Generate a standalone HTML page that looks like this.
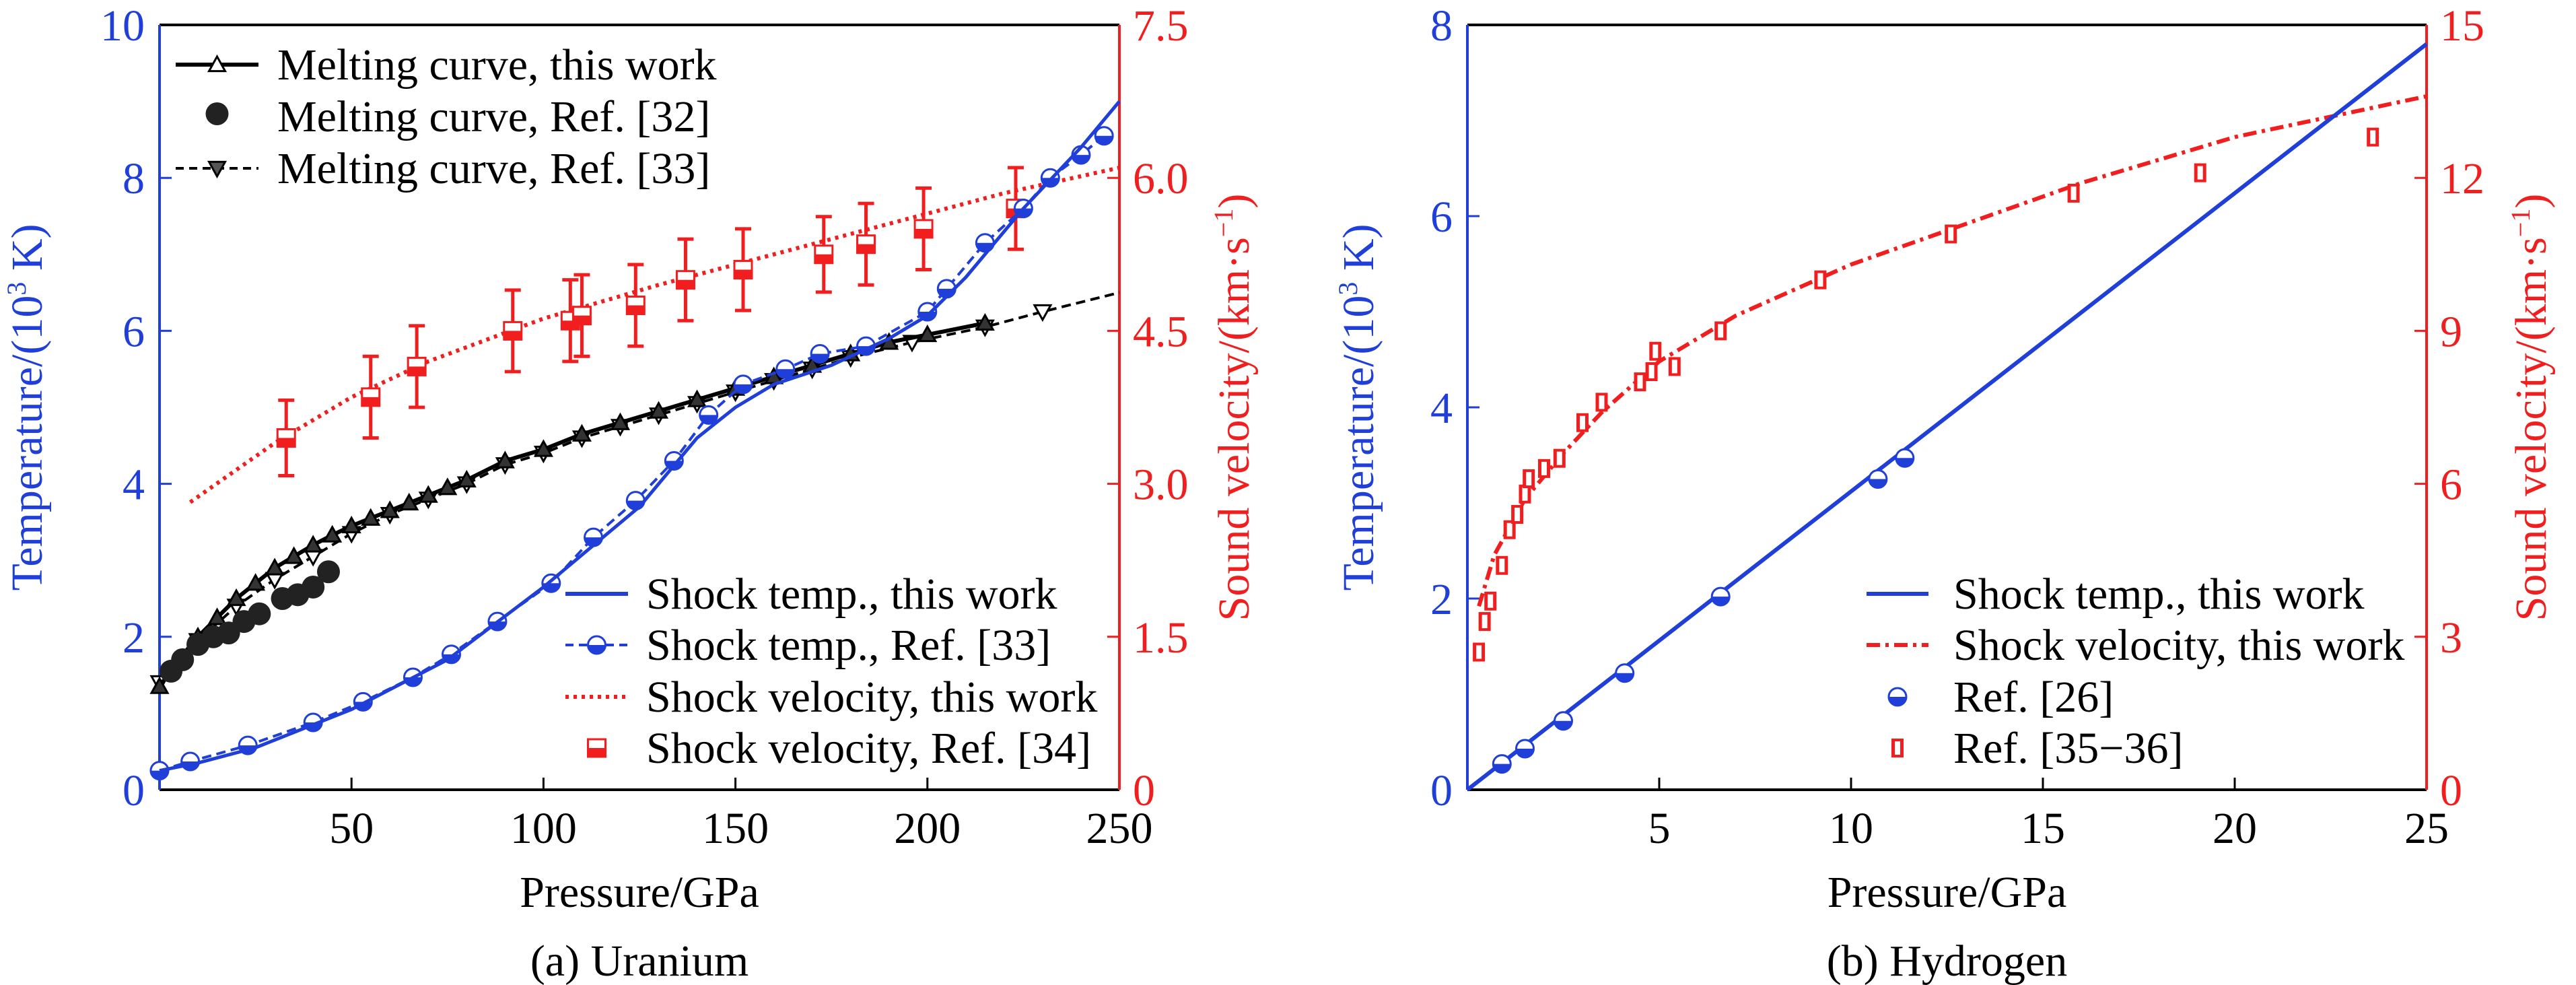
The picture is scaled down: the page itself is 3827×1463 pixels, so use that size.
<!DOCTYPE html>
<html><head><meta charset="utf-8"><style>
html,body{margin:0;padding:0;background:#fff}
svg{display:block}
text{font-family:"Liberation Serif","Times New Roman","DejaVu Serif",serif}
</style></head><body>
<svg id="fig" width="3827" height="1463" viewBox="0 0 3827 1463" xmlns="http://www.w3.org/2000/svg"></svg>
<script>
// ---------- Panel (a) Uranium data ----------
const meltThisP=[0,5,10,15,20,25,30,35,40,45,50,55,60,65,70,75,80,90,100,110,120,130,140,150,160,170,180,190,200,215];
const meltThisT=[1.35,1.7,2.0,2.25,2.5,2.7,2.9,3.05,3.2,3.33,3.45,3.55,3.65,3.75,3.85,3.95,4.05,4.3,4.45,4.65,4.8,4.95,5.1,5.25,5.4,5.55,5.7,5.85,5.95,6.1];
const meltR33P=[0,10,20,30,40,50,60,70,80,90,100,110,120,130,140,150,160,170,180,196,215,230,250];
const meltR33T=[1.4,1.95,2.4,2.75,3.05,3.35,3.6,3.8,4.0,4.25,4.4,4.6,4.75,4.9,5.05,5.2,5.35,5.5,5.65,5.85,6.05,6.25,6.5];
const meltR32P=[3,6,10,14,18,22,26,32,36,40,44];
const meltR32T=[1.55,1.7,1.9,2.0,2.05,2.2,2.3,2.5,2.55,2.65,2.85];
const stThisP=[0,10,25,50,75,100,125,140,150,160,175,190,200,210,225,240,250];
const stThisT=[0.25,0.35,0.55,1.05,1.7,2.65,3.7,4.6,5.0,5.3,5.55,5.9,6.2,6.7,7.6,8.4,9.0];
const stR33P=[0,8,23,40,53,66,76,88,102,113,124,134,143,152,163,172,184,200,205,215,225,232,240,246];
const stR33T=[0.25,0.37,0.58,0.88,1.15,1.47,1.77,2.2,2.7,3.3,3.78,4.3,4.9,5.3,5.5,5.7,5.8,6.25,6.55,7.15,7.6,8.0,8.3,8.55];
const svThisP=[8,30,50,70,100,130,160,190,220,250];
const svThisV=[2.82,3.4,3.85,4.2,4.62,4.95,5.25,5.55,5.85,6.1];
const svR34P=[33,55,67,92,107,110,124,137,152,173,184,199,223];
const svR34V=[3.45,3.85,4.15,4.5,4.6,4.65,4.75,5.0,5.1,5.25,5.35,5.5,5.7];
const svR34E=[0.37,0.4,0.4,0.4,0.4,0.4,0.4,0.4,0.4,0.37,0.4,0.4,0.4];
const aXTicks=[50,100,150,200,250];
const aYTicks=[0,2,4,6,8,10];
const aY2Ticks=["0","1.5","3.0","4.5","6.0","7.5"];
// ---------- Panel (b) Hydrogen data ----------
const hTempP=[0,25];
const hTempT=[0,7.8];
const hR26P=[0.9,1.5,2.5,4.1,6.6,10.7,11.4];
const hR26T=[0.27,0.43,0.72,1.22,2.02,3.25,3.47];
const hVelP=[0.3,0.7,1.5,2.5,3.5,5,7,10,13,16,20,25];
const hVelV=[3.6,4.6,5.7,6.6,7.4,8.4,9.3,10.3,11.1,11.9,12.8,13.6];
const hR35P=[0.3,0.45,0.6,0.9,1.1,1.3,1.5,1.6,2.0,2.4,3.0,3.5,4.5,4.8,4.9,5.4,6.6,9.2,12.6,15.8,19.1,23.6];
const hR35V=[2.7,3.3,3.7,4.4,5.1,5.4,5.8,6.1,6.3,6.5,7.2,7.6,8.0,8.2,8.6,8.3,9.0,10.0,10.9,11.7,12.1,12.8];
const bXTicks=[5,10,15,20,25];
const bYTicks=[0,2,4,6,8];
const bY2Ticks=[0,3,6,9,12,15];

const NS="http://www.w3.org/2000/svg";
const svg=document.getElementById('fig');
const BLUE="#1f3fd8", RED="#f01e1e";
const FONT="'Liberation Serif','Times New Roman','DejaVu Serif',serif";
function el(tag,attrs,parent){const e=document.createElementNS(NS,tag);for(const k in attrs)e.setAttribute(k,attrs[k]);(parent||svg).appendChild(e);return e;}
function txt(s,x,y,attrs,parent){const t=el('text',Object.assign({x:x,y:y,'font-size':62},attrs),parent);t.style.fontFamily=FONT;t.textContent=s;return t;}

function panel(cfg){
  const g=el('g',{});
  
  
  const X=v=>cfg.x0+(v-cfg.xmin)/(cfg.xmax-cfg.xmin)*(cfg.x1-cfg.x0);
  const Y=v=>cfg.yb-(v/cfg.ymax)*(cfg.yb-cfg.yt);
  const Y2=v=>cfg.yb-(v/cfg.y2max)*(cfg.yb-cfg.yt);
  cfg.X=X;cfg.Y=Y;cfg.Y2=Y2;cfg.g=g;
  cfg.xticks.forEach(t=>{
    const l=el('line',{x1:X(t),x2:X(t),y1:cfg.yb,y2:cfg.yb-18,stroke:'#000','stroke-width':3},g);
    
    const s=txt(String(t),X(t),1252,{'text-anchor':'middle','font-size':66},g);
    
  });
  cfg.yticks.forEach(t=>{
    el('line',{x1:cfg.x0,x2:cfg.x0+18,y1:Y(t),y2:Y(t),stroke:BLUE,'stroke-width':3},g);
    const s=txt(String(t),cfg.x0-22,Y(t)+23,{'text-anchor':'end','font-size':66,fill:BLUE},g);
    
  });
  cfg.y2ticks.forEach(t=>{
    const v=parseFloat(t);
    el('line',{x1:cfg.x1,x2:cfg.x1-18,y1:Y2(v),y2:Y2(v),stroke:RED,'stroke-width':3},g);
    const s=txt(String(t),cfg.x1+20,Y2(v)+23,{'font-size':66,fill:RED},g);
    
  });
  el('line',{x1:cfg.x0,x2:cfg.x1,y1:cfg.yt,y2:cfg.yt,stroke:'#000','stroke-width':4},g);
  el('line',{x1:cfg.x0,x2:cfg.x1,y1:cfg.yb,y2:cfg.yb,stroke:'#000','stroke-width':4},g);
  el('line',{x1:cfg.x0,x2:cfg.x0,y1:cfg.yt,y2:cfg.yb,stroke:BLUE,'stroke-width':4},g);
  el('line',{x1:cfg.x1,x2:cfg.x1,y1:cfg.yt,y2:cfg.yb,stroke:RED,'stroke-width':4},g);
  const xl=txt('Pressure/GPa',(cfg.x0+cfg.x1)/2,1347,{'text-anchor':'middle','font-size':66},g);
  
  const cap=txt(cfg.caption,(cfg.x0+cfg.x1)/2,1449,{'text-anchor':'middle','font-size':66},g);
  
  const yl=el('text',{x:0,y:0,'font-size':66,fill:BLUE,'text-anchor':'middle',transform:`translate(${cfg.ylx},${(cfg.yt+cfg.yb)/2}) rotate(-90)`},g);
  yl.style.fontFamily=FONT;
  yl.innerHTML='Temperature/(10<tspan font-size="40" dy="-24">3</tspan><tspan dy="24"> K)</tspan>';
  
  const y2l=el('text',{x:0,y:0,'font-size':66,fill:RED,'text-anchor':'middle',transform:`translate(${cfg.y2lx},${(cfg.yt+cfg.yb)/2}) rotate(-90)`},g);
  y2l.style.fontFamily=FONT;
  y2l.innerHTML='Sound velocity/(km·s<tspan font-size="40" dy="-24">−1</tspan><tspan dy="24">)</tspan>';
  
  return cfg;
}
function path(P,V,fy,X,attrs,g,name){
  const d=P.map((p,i)=>(i?'L':'M')+X(p).toFixed(1)+','+fy(V[i]).toFixed(1)).join(' ');
  const e=el('path',Object.assign({d:d,fill:'none'},attrs),g);
  return e;
}
function tri(x,y,up,fill,g,s){
  s=s||12;const d=up?`M${x},${y-s} L${x+s},${y+s*0.8} L${x-s},${y+s*0.8}Z`:`M${x},${y+s} L${x+s},${y-s*0.8} L${x-s},${y-s*0.8}Z`;
  return el('path',{d:d,fill:fill,stroke:'#000','stroke-width':3},g);
}
function halfCircle(x,y,g){
  el('circle',{cx:x,cy:y,r:13,fill:'#fff',stroke:BLUE,'stroke-width':3},g);
  return el('path',{d:`M${x-13},${y} A13,13 0 0 0 ${x+13},${y} Z`,fill:BLUE},g);
}
function halfSquare(x,y,g){
  el('rect',{x:x-13,y:y-13,width:26,height:26,fill:'#fff',stroke:RED,'stroke-width':3},g);
  return el('rect',{x:x-13,y:y,width:26,height:13,fill:RED},g);
}

const A=panel({name:'panel-uranium',x0:237,x1:1663,yt:37,yb:1173,xmin:0,xmax:250,ymax:10,y2max:7.5,
  xticks:aXTicks,yticks:aYTicks,y2ticks:aY2Ticks,caption:'(a) Uranium',ylx:62,y2lx:1855});
const ga=A.g;
path(svThisP,svThisV,A.Y2,A.X,{stroke:RED,'stroke-width':6,'stroke-dasharray':'5,7'},ga,'shock-velocity-this-work-line');
svR34P.forEach((p,i)=>{
  const x=A.X(p),y=A.Y2(svR34V[i]),e=svR34E[i];
  const b=el('path',{d:`M${x},${A.Y2(svR34V[i]-e)} V${A.Y2(svR34V[i]+e)} M${x-12},${A.Y2(svR34V[i]-e)} H${x+12} M${x-12},${A.Y2(svR34V[i]+e)} H${x+12}`,stroke:RED,'stroke-width':5,fill:'none'},ga);
  
  const m=halfSquare(x,y,ga);
});
path(meltR33P,meltR33T,A.Y,A.X,{stroke:'#000','stroke-width':4,'stroke-dasharray':'14,8'},ga,'melting-ref33-line');
meltR33P.slice(0,-1).forEach((p,i)=>{const m=tri(A.X(p),A.Y(meltR33T[i]),false,'#fff',ga);});
path(meltThisP,meltThisT,A.Y,A.X,{stroke:'#000','stroke-width':6},ga,'melting-this-work-line');
meltThisP.forEach((p,i)=>{const m=tri(A.X(p),A.Y(meltThisT[i]),true,'#333',ga);});
meltR32P.forEach((p,i)=>{const m=el('circle',{cx:A.X(p),cy:A.Y(meltR32T[i]),r:17,fill:'#222'},ga);});
path(stR33P,stR33T,A.Y,A.X,{stroke:BLUE,'stroke-width':4,'stroke-dasharray':'14,8'},ga,'shock-temp-ref33-line');
stR33P.forEach((p,i)=>{const m=halfCircle(A.X(p),A.Y(stR33T[i]),ga);});
path(stThisP,stThisT,A.Y,A.X,{stroke:BLUE,'stroke-width':5},ga,'shock-temp-this-work-line');

function legRow(g,sx,tx,y,label,kind){
  const r=el('g',{},g);
  
  
  const mx=(sx[0]+sx[1])/2;
  if(kind==='meltThis'){el('line',{x1:sx[0],x2:sx[1],y1:y,y2:y,stroke:'#000','stroke-width':6},r);tri(mx,y,true,'#fff',r);}
  if(kind==='ref32'){el('circle',{cx:mx,cy:y-4,r:17,fill:'#222'},r);}
  if(kind==='meltR33'){el('line',{x1:sx[0],x2:sx[1],y1:y,y2:y,stroke:'#000','stroke-width':4,'stroke-dasharray':'12,8'},r);tri(mx,y,false,'#555',r);}
  if(kind==='stThis'){el('line',{x1:sx[0],x2:sx[1],y1:y,y2:y,stroke:BLUE,'stroke-width':6},r);}
  if(kind==='stR33'){el('line',{x1:sx[0],x2:sx[1],y1:y,y2:y,stroke:BLUE,'stroke-width':4,'stroke-dasharray':'12,8'},r);halfCircle(mx,y,r);}
  if(kind==='svThis'){el('line',{x1:sx[0],x2:sx[1],y1:y,y2:y,stroke:RED,'stroke-width':6,'stroke-dasharray':'5,7'},r);}
  if(kind==='svR34'){halfSquare(mx,y,r);}
  if(kind==='dashdot'){el('line',{x1:sx[0],x2:sx[1],y1:y,y2:y,stroke:RED,'stroke-width':6,'stroke-dasharray':'20,8,5,8'},r);}
  if(kind==='r26'){halfCircle(mx,y,r);}
  if(kind==='r35'){el('rect',{x:mx-9,y:y-14,width:18,height:28,fill:RED},r);el('rect',{x:mx-4,y:y-10,width:8,height:20,fill:'#fff'},r);}
  txt(label,tx,y+22,{'font-size':66},r);
}
legRow(ga,[261,384],412,96,'Melting curve, this work','meltThis');
legRow(ga,[261,384],412,173,'Melting curve, Ref. [32]','ref32');
legRow(ga,[261,384],412,250,'Melting curve, Ref. [33]','meltR33');
legRow(ga,[840,933],960,882,'Shock temp., this work','stThis');
legRow(ga,[840,933],960,958,'Shock temp., Ref. [33]','stR33');
legRow(ga,[840,933],960,1035,'Shock velocity, this work','svThis');
legRow(ga,[840,933],960,1111,'Shock velocity, Ref. [34]','svR34');

const B=panel({name:'panel-hydrogen',x0:2180,x1:3605,yt:37,yb:1173,xmin:0,xmax:25,ymax:8,y2max:15,
  xticks:bXTicks,yticks:bYTicks,y2ticks:bY2Ticks,caption:'(b) Hydrogen',ylx:2040,y2lx:3782});
const gb=B.g;
path(hVelP,hVelV,B.Y2,B.X,{stroke:RED,'stroke-width':6,'stroke-dasharray':'20,8,5,8'},gb,'shock-velocity-this-work-line');
hR35P.forEach((p,i)=>{const x=B.X(p),y=B.Y2(hR35V[i]);
  const m=el('rect',{x:x-9,y:y-14,width:18,height:28,fill:RED},gb);
  el('rect',{x:x-4,y:y-10,width:8,height:20,fill:'#fff'},gb);});
path(hTempP,hTempT,B.Y,B.X,{stroke:BLUE,'stroke-width':6},gb,'shock-temp-this-work-line');
hR26P.forEach((p,i)=>{const m=halfCircle(B.X(p),B.Y(hR26T[i]),gb);});
legRow(gb,[2773,2865],2902,882,'Shock temp., this work','stThis');
legRow(gb,[2773,2865],2902,958,'Shock velocity, this work','dashdot');
legRow(gb,[2773,2865],2902,1035,'Ref. [26]','r26');
legRow(gb,[2773,2865],2902,1111,'Ref. [35−36]','r35');
</script>
</body></html>
